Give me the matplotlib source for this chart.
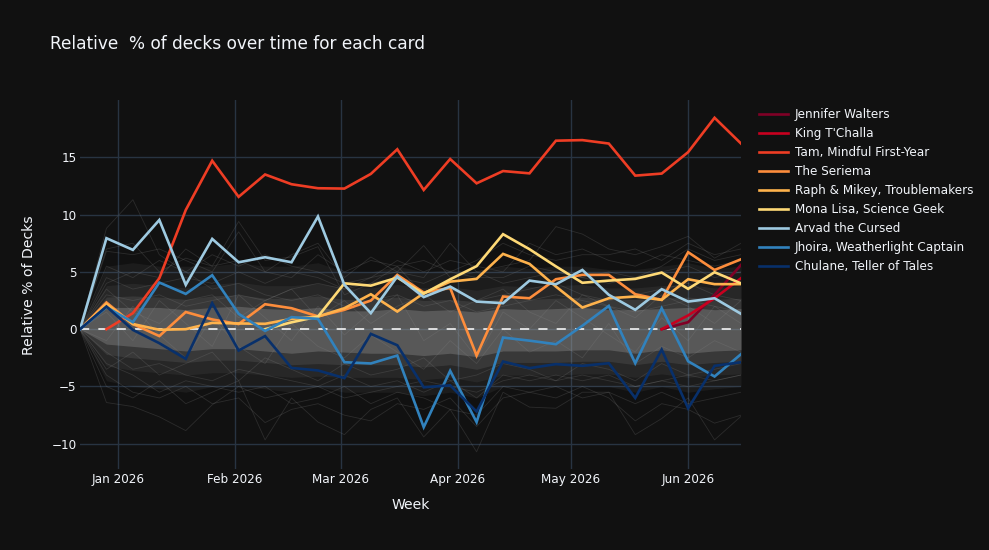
import numpy as np
import pandas as pd
import matplotlib
matplotlib.use("Agg")
import matplotlib.pyplot as plt
from matplotlib.lines import Line2D

nan = np.nan
weeks = pd.date_range("2025-12-22", periods=26, freq="7D")

# highlighted cards
card_names = ["Jennifer Walters", "King T'Challa", "Tam, Mindful First-Year", "The Seriema",
              "Raph & Mikey, Troublemakers", "Mona Lisa, Science Geek", "Arvad the Cursed",
              "Jhoira, Weatherlight Captain", "Chulane, Teller of Tales"]
card_colors = ["#800026", "#c8001f", "#ee3d24", "#fd8d3c", "#feb24c", "#fed976",
               "#9ecae1", "#3182bd", "#08306b"]

jennifer = [nan] * 22 + [0.0, 0.61, 3.0, 5.61]
king = [nan] * 22 + [0.0, 1.2, 2.7, 4.45]
tam = [nan, 0.0, 1.4, 4.45, 10.4, 14.7, 11.55, 13.5, 12.65, 12.3, 12.27, 13.55, 15.7,
       12.15, 14.85, 12.73, 13.8, 13.6, 16.45, 16.5, 16.2, 13.4, 13.58, 15.45, 18.45, 16.2]
seriema = [0.0, 2.33, 0.45, -0.6, 1.5, 0.85, 0.45, 2.18, 1.83, 1.12, 1.69, 2.5, 4.74,
           3.2, 3.6, -2.3, 2.85, 2.7, 4.36, 4.74, 4.74, 3.05, 2.56, 6.72, 5.17, 6.1]
raph = [0.0, 2.2, 0.45, -0.05, 0.0, 0.55, 0.5, 0.47, 0.9, 1.1, 1.83, 3.05, 1.54,
        3.14, 4.15, 4.39, 6.57, 5.7, 3.72, 1.89, 2.7, 2.85, 2.56, 4.36, 3.93, 3.93]
mona = [nan] * 7 + [0.0, 0.6, 1.1, 4.0, 3.8, 4.5, 3.1, 4.35, 5.5, 8.29, 6.98, 5.48,
                    4.05, 4.24, 4.39, 4.94, 3.52, 4.97, 4.0]
arvad = [0.0, 7.94, 6.92, 9.53, 3.87, 7.88, 5.84, 6.28, 5.84, 9.83, 3.87, 1.4, 4.6,
         2.8, 3.72, 2.41, 2.27, 4.24, 3.92, 5.17, 3.0, 1.69, 3.49, 2.41, 2.7, 1.34]
jhoira = [0.0, 1.92, 0.61, 4.07, 3.08, 4.71, 1.34, -0.15, 1.05, 0.9, -2.88, -2.99, -2.3,
          -8.55, -3.63, -8.11, -0.73, -1.0, -1.31, 0.3, 2.03, -2.97, 1.83, -2.8, -4.13, -2.18]
chulane = [0.0, 1.98, -0.06, -1.22, -2.59, 2.27, -1.86, -0.6, -3.38, -3.6, -4.27, -0.41, -1.4,
           -5.07, -4.9, -7.19, -2.82, -3.4, -3.05, -3.2, -2.97, -6.0, -1.78, -6.9, -3.2, -2.88]
card_series = [jennifer, king, tam, seriema, raph, mona, arvad, jhoira, chulane]

# background cloud of all other cards (estimated envelopes, outer -> inner)
outer_hi = [0, 5.5, 5.8, 5.5, 5.5, 5.5, 5.8, 5.5, 5.5, 5.8, 5.0, 5.0, 5.5, 5.0, 5.2, 5.0,
            5.5, 5.3, 5.5, 5.5, 5.2, 5.2, 5.5, 5.8, 5.3, 5.5]
outer_lo = [0, -4.5, -5.0, -5.2, -5.5, -5.0, -5.0, -5.2, -5.5, -5.0, -5.5, -5.5, -5.5, -5.8,
            -5.5, -6.0, -5.0, -5.0, -5.0, -5.0, -5.0, -5.5, -5.0, -5.5, -5.2, -5.0]
mid_hi = [0, 3.8, 4.0, 3.8, 3.6, 3.9, 4.1, 3.8, 3.8, 4.0, 3.6, 3.6, 3.9, 3.6, 3.7, 3.4,
          3.8, 3.7, 3.8, 3.9, 3.6, 3.6, 3.8, 3.9, 3.6, 3.8]
mid_lo = [0, -3.2, -3.6, -3.8, -4.0, -3.8, -3.8, -4.0, -4.2, -4.1, -4.2, -4.2, -4.2, -4.4,
          -4.2, -4.6, -4.0, -4.0, -4.0, -3.9, -3.9, -4.2, -3.9, -4.2, -4.0, -3.9]
inner_hi = [0, 2.8, 2.9, 2.8, 2.6, 2.9, 3.0, 2.7, 2.7, 2.9, 2.6, 2.6, 2.8, 2.5, 2.6, 2.4,
            2.7, 2.6, 2.7, 2.8, 2.6, 2.6, 2.7, 2.8, 2.6, 2.7]
inner_lo = [0, -2.2, -2.5, -2.7, -2.9, -2.7, -2.7, -2.9, -3.1, -3.0, -3.1, -3.1, -3.1, -3.3,
            -3.1, -3.5, -2.9, -2.9, -2.9, -2.8, -2.8, -3.1, -2.8, -3.1, -2.9, -2.8]
core_hi = [0, 1.9, 1.9, 1.9, 1.7, 1.9, 2.0, 1.8, 1.7, 1.9, 1.6, 1.6, 1.8, 1.6, 1.7, 1.5,
           1.8, 1.7, 1.8, 1.9, 1.7, 1.7, 1.8, 1.9, 1.7, 1.8]
core_lo = [0, -1.3, -1.5, -1.7, -1.9, -1.7, -1.7, -1.9, -2.1, -1.9, -2.0, -2.1, -2.1, -2.3,
           -2.1, -2.4, -1.9, -1.9, -1.9, -1.8, -1.8, -2.1, -1.8, -2.1, -1.9, -1.8]

bg1 = [0, 8.8, 11.3, 6.5, 5.0, 3.5, 4.0, 3.0, 2.5, 3.0, 2.0, 2.5, 3.0, 2.0, 2.5, 1.5, 2.0, 2.5, 3.0, 2.5, 2.0, 1.5, 2.0, 2.5, 2.0, 1.5]
bg2 = [0, 7.0, 7.5, 5.0, 6.2, 5.5, 9.4, 6.0, 6.3, 7.2, 3.0, 4.0, 5.5, 3.0, 3.5, 2.5, 3.0, 3.5, 4.0, 3.0, 2.5, 3.0, 3.5, 4.0, 3.0, 2.5]
bg3 = [0, 6.8, 6.5, 7.0, 6.0, 5.0, 8.5, 5.0, 6.5, 7.5, 4.5, 6.3, 5.0, 7.3, 4.5, 5.0, 4.0, 4.5, 5.0, 4.5, 5.0, 4.5, 5.5, 7.0, 6.0, 6.5]
bg4 = [0, 3.0, 2.5, 3.0, 2.0, 2.5, 3.0, 2.5, 3.5, 4.0, 3.5, 4.5, 5.0, 4.5, 7.5, 5.0, 5.5, 6.0, 8.95, 8.3, 7.0, 6.5, 7.2, 8.1, 6.2, 7.5]
bg5 = [0, 4.0, 5.0, 4.5, 7.0, 5.5, 6.0, 5.0, 4.5, 6.5, 5.0, 6.0, 5.5, 6.0, 5.0, 6.0, 7.5, 6.5, 6.0, 6.5, 6.5, 7.0, 6.0, 7.5, 6.5, 7.0]
bg6 = [0, -6.4, -6.75, -7.65, -8.85, -6.6, -5.0, -6.0, -5.5, -5.0, -6.0, -5.5, -5.0, -4.5, -5.0, -5.5, -4.5, -4.0, -4.5, -4.0, -4.5, -5.0, -4.5, -4.0, -4.5, -4.0]
bg7 = [0, -5.0, -6.0, -4.5, -6.5, -5.5, -4.5, -9.66, -6.0, -8.1, -9.2, -7.0, -6.0, -9.4, -7.0, -10.7, -5.5, -6.8, -6.9, -5.5, -5.5, -9.2, -7.8, -6.0, -9.66, -7.6]
bg8 = [0, -4.0, -5.5, -6.0, -5.0, -6.5, -6.0, -8.15, -7.0, -6.5, -7.5, -8.0, -6.5, -7.0, -6.0, -8.5, -6.0, -5.5, -6.0, -5.0, -6.0, -8.0, -6.5, -7.0, -8.2, -7.5]
bg9 = [0, -3.0, -4.0, -5.5, -4.5, -5.0, -5.5, -5.0, -6.5, -6.0, -5.0, -6.5, -5.5, -6.0, -7.0, -7.5, -5.0, -5.5, -5.0, -6.0, -5.5, -6.5, -5.5, -6.5, -6.0, -5.5]
bg10 = [0, 5.5, 4.5, 6.0, 5.0, 6.5, 5.5, 6.5, 5.5, 5.0, 4.0, 4.5, 6.0, 5.0, 6.0, 5.5, 5.0, 7.5, 6.5, 7.0, 6.0, 5.5, 6.5, 6.0, 5.5, 6.0]
bg11 = [0, -2.0, -3.5, -3.0, -4.0, -4.5, -3.5, -4.0, -4.5, -5.0, -4.0, -5.0, -4.5, -5.5, -4.5, -6.0, -4.0, -4.5, -4.0, -4.5, -4.0, -5.0, -4.5, -5.0, -4.5, -4.0]
bg12 = [0, 4.5, 3.5, 4.0, 4.5, 4.0, 5.0, 4.0, 5.0, 4.5, 3.5, 4.0, 4.5, 4.0, 5.0, 4.5, 4.5, 5.5, 5.0, 4.5, 4.0, 4.5, 5.0, 5.5, 4.5, 5.0]
bg13 = [0, 1.5, -1.0, 2.5, 0.5, -1.5, 3.0, 1.0, -1.0, 2.0, -0.5, 1.5, 3.0, -1.0, 0.5, -2.5, 1.5, 0.0, 2.5, 1.0, -0.5, -2.0, 1.0, -1.0, 2.0, 0.5]
bg14 = [0, -1.0, 2.0, -0.5, -2.5, 1.0, -1.5, -3.0, 0.5, -1.5, -2.5, -0.5, -2.0, -3.5, -1.0, -3.0, 0.0, -2.0, -1.0, -2.5, 0.5, -3.0, -1.5, -2.5, -1.0, -2.0]
bg15 = [0, 3.5, 1.5, 0.5, 2.5, 3.0, 1.0, 2.5, 3.5, 1.0, 2.5, 0.5, 2.0, 3.0, 1.5, 2.5, 3.5, 1.5, 0.5, 3.0, 2.0, 1.0, 3.0, 2.0, 0.5, 2.5]
bg16 = [0, -3.5, -2.0, -4.0, -3.0, -2.0, -4.5, -2.5, -3.5, -4.5, -3.0, -4.0, -3.5, -2.5, -4.5, -4.0, -3.0, -3.5, -4.5, -3.0, -3.5, -4.5, -3.0, -4.0, -3.5, -3.0]
bg_lines = [bg1, bg2, bg3, bg4, bg5, bg6, bg7, bg8, bg9, bg10, bg11, bg12, bg13, bg14, bg15, bg16]

month_ticks = ["Jan 2026", "Feb 2026", "Mar 2026", "Apr 2026", "May 2026", "Jun 2026"]
y_ticks = [-10, -5, 0, 5, 10, 15]

BG = "#111111"
GRID = "#283442"
TXT = "#f2f5fa"
W, H = 989, 550

fig = plt.figure(figsize=(W / 100, H / 100), dpi=100, facecolor=BG)
L, R, T, B = 80, 741, 100, 469
ax = fig.add_axes([L / W, 1 - B / H, (R - L) / W, (B - T) / H], facecolor=BG)

# background cloud
for lo, hi, a in [(outer_lo, outer_hi, 0.07), (mid_lo, mid_hi, 0.08),
                  (inner_lo, inner_hi, 0.13), (core_lo, core_hi, 0.27)]:
    ax.fill_between(weeks, lo, hi, color="#b0b0b0", alpha=a, lw=0, zorder=1)
for s in bg_lines:
    ax.plot(weeks, s, color="#8a8a8a", alpha=0.22, lw=0.6, zorder=2)

ax.axhline(0, color="white", lw=1.1, ls=(0, (6, 6)), zorder=3)

for s, c in zip(card_series, card_colors):
    ax.plot(weeks, s, color=c, lw=1.9, zorder=4, solid_joinstyle="miter")

ax.set_xlim(weeks[0], weeks[-1])
ax.set_ylim(-12.2, 20.0)
ax.set_yticks(y_ticks)
ax.set_yticklabels([f"{v}".replace("-", "\u2212") for v in y_ticks])
tick_dates = pd.date_range("2026-01-01", periods=6, freq="MS")
ax.set_xticks(tick_dates)
ax.set_xticklabels(month_ticks)
ax.grid(True, color=GRID, lw=1.0, zorder=0)
ax.set_axisbelow(True)
for sp in ax.spines.values():
    sp.set_visible(False)
ax.tick_params(axis="both", length=0, colors=TXT, labelsize=8.64)
ax.tick_params(axis="y", pad=2.5)
ax.tick_params(axis="x", pad=3)

fig.text(50 / W, 1 - 44 / H, "Relative  % of decks over time for each card",
         color=TXT, fontsize=12.24, ha="left", va="center")
fig.text(29 / W, 1 - 285 / H, "Relative % of Decks", color=TXT, fontsize=10.08,
         rotation=90, ha="center", va="center")
fig.text(410.5 / W, 1 - 505 / H, "Week", color=TXT, fontsize=10.08, ha="center", va="center")

# legend
for i, (n, c) in enumerate(zip(card_names, card_colors)):
    yp = 1 - (114.3 + 19 * i) / H
    fig.add_artist(Line2D([759 / W, 788 / W], [yp, yp], color=c, lw=1.9,
                          transform=fig.transFigure))
    fig.text(795 / W, yp, n, color=TXT, fontsize=8.64, ha="left", va="center")

fig.savefig("out.png", dpi=100, facecolor=BG)
